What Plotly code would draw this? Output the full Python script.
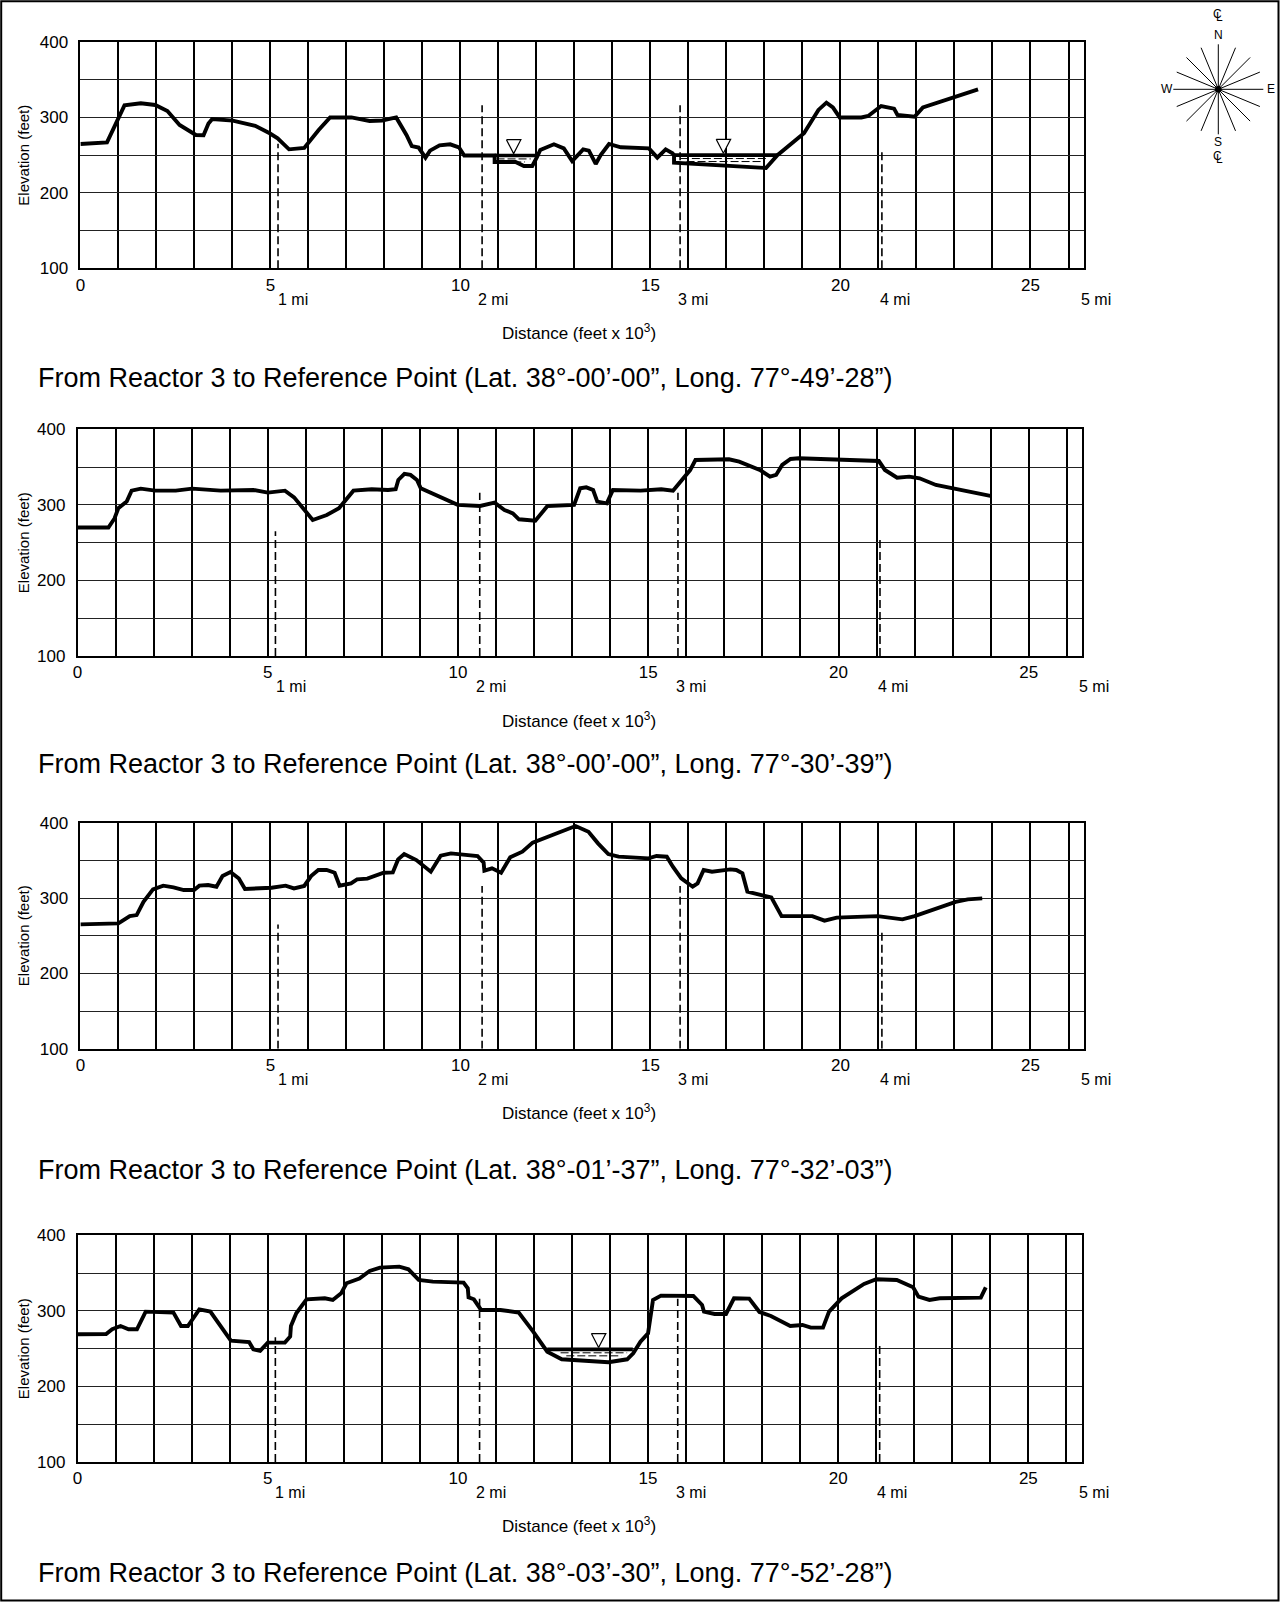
import math
import plotly.graph_objects as go

W, H = 1281, 1602

# ---------------- data (distance in feet x 10^3, elevation in feet) ----------------
p1_x = [0, 0.7, 1.02, 1.16, 1.59, 1.97, 2.29, 2.61, 3.04, 3.24,
        3.37, 3.47, 4.01, 4.6, 4.98, 5.19, 5.49, 5.89, 6.27, 6.57,
        7.13, 7.61, 7.94, 8.31, 8.58, 8.72, 8.9, 9.08, 9.2, 9.45,
        9.73, 9.96, 10.1, 10.9, 10.9, 11.45, 11.67, 11.89, 12.02, 12.1,
        12.46, 12.72, 12.94, 13.23, 13.38, 13.56, 13.69, 13.91, 14.22, 14.96,
        15.18, 15.4, 15.58, 15.62, 15.62, 18.04, 18.34, 19.04, 19.42, 19.63,
        19.8, 19.98, 20.55, 20.73, 21.07, 21.41, 21.5, 21.95, 22.17, 23.62]
p1_y = [264.8, 267, 301, 316, 318.7, 316.5, 308.5, 290, 276.7, 276.3,
        292, 298, 295.7, 289, 279, 272.3, 257.7, 259.5, 283.4, 300,
        300, 295.3, 296, 300, 276.7, 262, 260, 246.7, 256, 263,
        264.4, 260.4, 249.5, 249.5, 241, 241, 235.6, 235.6, 248, 256.8,
        264.4, 259, 242.2, 257.7, 256, 238.3, 250, 264.8, 260.4, 259,
        246.7, 257.7, 252.4, 250, 240, 233, 250, 279, 310, 319.6,
        313.4, 300, 300, 302, 315.2, 311.6, 303.2, 301, 313.4, 337.3]

p2_x = [0, 0.81, 0.97, 1.07, 1.29, 1.42, 1.66, 2.04, 2.58, 3.01,
        3.76, 4.62, 5.0, 5.45, 5.69, 6.18, 6.55, 6.87, 7.25, 7.73,
        8.16, 8.36, 8.43, 8.59, 8.75, 8.92, 9.02, 9.56, 9.99, 10.58,
        10.96, 11.22, 11.44, 11.6, 12.03, 12.35, 13.05, 13.21, 13.37, 13.55,
        13.66, 13.91, 14.07, 14.8, 15.34, 15.65, 15.99, 16.1, 16.24, 17.12,
        17.39, 17.93, 18.2, 18.36, 18.52, 18.74, 18.95, 21.06, 21.22, 21.54,
        21.86, 22.13, 22.56, 23.0, 23.99]
p2_y = [270, 270, 282, 295.5, 304.3, 318.8, 321.5, 318.8, 318.8, 321.5,
        318.8, 319.7, 316.2, 318.8, 310, 280, 286.6, 295.5, 318.8, 320.6,
        319.7, 320.6, 333, 341, 339.6, 333, 322, 310, 300, 298.5,
        303, 293.2, 288.8, 280.9, 279, 298.5, 300, 322, 323.2, 319.7,
        304.3, 302, 319.7, 318.8, 320.6, 318.8, 339.6, 346, 359.4, 360.3,
        357.2, 346.2, 337.4, 339.6, 352.8, 360.7, 361.6, 358, 346.2, 336,
        337.4, 335.2, 326.3, 322, 311.8]

p3_x = [0, 1.0, 1.3, 1.48, 1.66, 1.91, 2.18, 2.45, 2.72, 2.99,
        3.13, 3.36, 3.58, 3.74, 3.95, 4.17, 4.33, 5.03, 5.4, 5.62,
        5.89, 6.07, 6.26, 6.48, 6.69, 6.82, 7.12, 7.28, 7.55, 7.98,
        8.22, 8.36, 8.52, 8.84, 9.22, 9.48, 9.75, 10.45, 10.61, 10.63,
        10.83, 11.07, 11.31, 11.63, 11.9, 13.03, 13.37, 13.62, 13.89, 14.16,
        14.95, 15.16, 15.43, 15.59, 15.81, 16.11, 16.24, 16.4, 16.62, 17.1,
        17.26, 17.42, 17.55, 17.96, 18.18, 18.45, 19.26, 19.58, 19.9, 20.98,
        21.63, 21.95, 23.03, 23.35, 23.73]
p3_y = [265, 266.4, 276, 277.4, 295, 311.5, 316.4, 314.2, 310.6, 310.6,
        316.4, 317.3, 315, 329.2, 334.5, 326, 312, 313.7, 316.4, 312.8,
        316, 329.2, 337.2, 337.2, 333.6, 316.4, 319.5, 324.8, 325.7, 333.6,
        334, 351.3, 358.4, 350.4, 335, 356.2, 359.3, 355.8, 347, 336.3,
        339.4, 333.6, 354, 361.5, 373.5, 395.6, 388, 372.6, 358.4, 354.9,
        352.7, 355.8, 354.9, 341.6, 326, 315, 319.5, 337.2, 335, 338,
        337.2, 332.7, 308.4, 304, 300.9, 276, 276, 270, 274, 276,
        271.7, 276, 295, 298.2, 299.6]

p4_x = [0, 0.75, 0.91, 1.13, 1.34, 1.56, 1.79, 2.52, 2.72, 2.9,
        3.2, 3.49, 4.03, 4.51, 4.62, 4.8, 5.0, 5.45, 5.59, 5.61,
        5.75, 6.02, 6.5, 6.71, 6.93, 7.07, 7.41, 7.68, 7.95, 8.46,
        8.7, 8.97, 9.34, 10.15, 10.26, 10.28, 10.42, 10.61, 11.12, 11.6,
        11.98, 12.35, 12.73, 13.16, 13.96, 14.45, 14.61, 14.8, 15.0, 15.13,
        15.34, 16.19, 16.42, 16.47, 16.75, 17.05, 17.16, 17.26, 17.66, 17.8,
        17.93, 18.23, 18.47, 18.74, 19.06, 19.28, 19.6, 19.76, 20.09, 20.41,
        20.68, 21.0, 21.54, 21.97, 22.11, 22.4, 22.67, 23.75, 23.88]
p4_y = [269, 269.4, 275.6, 280, 275.6, 275.6, 299, 297.7, 280, 280,
        302, 299, 260.6, 258.8, 249.1, 247, 258, 258, 266, 280,
        296.8, 315.3, 316.6, 314.4, 323.2, 336.5, 342.7, 352.8, 357.2, 358.5,
        355, 340.9, 338.7, 337.4, 329.9, 318, 315.3, 301.2, 301.2, 297.7,
        272.5, 246, 235.9, 234.1, 232, 235.9, 243.8, 259.3, 270.3, 314.4,
        320.2, 319.7, 307.8, 299, 295.9, 295.9, 305.6, 316.6, 316.2, 306.5,
        298.5, 293.3, 287, 280, 281.3, 277.8, 277.8, 299, 316.6, 326.8,
        335.6, 341.8, 340.9, 331.2, 318.8, 314.4, 316.6, 317.5, 331.2]

profiles_x = [p1_x, p2_x, p3_x, p4_x]
profiles_y = [p1_y, p2_y, p3_y, p4_y]

# water bodies per panel: start, end, surface level, marker position, dashed-fill extent
water_start = [[10.9, 15.62], [], [], [12.35]]
water_end = [[12.02, 18.34], [], [], [14.6]]
water_level = [[249.5, 250], [], [], [249]]
water_marker_x = [[11.4, 16.92], [], [], [13.7]]
water_dash_start = [[10.95, 15.8], [], [], [12.7]]
water_dash_end = [[11.85, 18.05], [], [], [14.45]]

# mile markers (dashed verticals) and labels
mile_marker_x = [5.2, 10.57, 15.78, 21.09]
mile_marker_top = [265, 316, 316, 257]
mile_labels = ["1 mi", "2 mi", "3 mi", "4 mi", "5 mi"]
mile_label_x = [5.15, 10.42, 15.68, 20.98, 26.28]

x_tick_vals = [0, 5, 10, 15, 20, 25]
y_tick_vals = [100, 200, 300, 400]
x_range = [0, 26.4]
y_range = [100, 400]

titles = [
    "From Reactor 3 to Reference Point (Lat. 38°-00’-00”, Long. 77°-49’-28”)",
    "From Reactor 3 to Reference Point (Lat. 38°-00’-00”, Long. 77°-30’-39”)",
    "From Reactor 3 to Reference Point (Lat. 38°-01’-37”, Long. 77°-32’-03”)",
    "From Reactor 3 to Reference Point (Lat. 38°-03’-30”, Long. 77°-52’-28”)",
]
x_title = "Distance (feet x 10<sup>3</sup>)"
y_title = "Elevation (feet)"

# ---------------- layout geometry (pixels) ----------------
plot_left = [80.4, 77.6, 80.4, 77.6]
plot_right = [1083.7, 1082.0, 1083.7, 1081.6]
plot_top = [42.0, 429.3, 822.7, 1235.3]
plot_bottom = [268.3, 656.0, 1048.7, 1462.0]
mile_label_y = [299, 686.5, 1079.7, 1492.4]
dist_label_y = [332, 720, 1112, 1525]
title_y = [378, 764, 1170, 1573]

FONT = "Arial, 'Liberation Sans', Helvetica, sans-serif"


def fx(px):
    return px / W


def fy(py):
    return 1 - py / H


fig = go.Figure()
annotations = []
shapes = []
layout = {}

for i in range(4):
    xa = "x" if i == 0 else f"x{i+1}"
    ya = "y" if i == 0 else f"y{i+1}"
    xk = "xaxis" if i == 0 else f"xaxis{i+1}"
    yk = "yaxis" if i == 0 else f"yaxis{i+1}"
    layout[xk] = dict(
        domain=[fx(plot_left[i]), fx(plot_right[i])], range=x_range, anchor=ya,
        tickvals=x_tick_vals, ticks="", ticklabelstandoff=0, automargin=False,
        tickfont=dict(size=17, color="black", family=FONT),
        showgrid=True, gridcolor="black", gridwidth=1.8,
        minor=dict(dtick=1, tick0=0, showgrid=True, gridcolor="black", gridwidth=1.8),
        showline=True, mirror=True, linecolor="black", linewidth=1.7,
        zeroline=False, fixedrange=True,
    )
    layout[yk] = dict(
        domain=[fy(plot_bottom[i]), fy(plot_top[i])], range=y_range, anchor=xa,
        tickvals=y_tick_vals, ticks="", ticklabelstandoff=7, automargin=False,
        tickfont=dict(size=17, color="black", family=FONT),
        showgrid=True, gridcolor="#222222", gridwidth=1.4,
        minor=dict(dtick=50, tick0=0, showgrid=True, gridcolor="#222222", gridwidth=1.4),
        showline=True, mirror=True, linecolor="black", linewidth=1.7,
        zeroline=False, fixedrange=True,
    )

    # mile marker dashed lines
    for mx, mt in zip(mile_marker_x, mile_marker_top):
        fig.add_trace(go.Scatter(x=[mx, mx], y=[y_range[0], mt], mode="lines",
                                 line=dict(color="black", width=1.6, dash="8px,4px"),
                                 xaxis=xa, yaxis=ya, showlegend=False, hoverinfo="skip"))

    # water bodies
    for ws, we, wl, wm, ds, de in zip(water_start[i], water_end[i], water_level[i],
                                      water_marker_x[i], water_dash_start[i], water_dash_end[i]):
        for off, shrink in [(4.5, 0.0), (8.5, 0.15)]:
            fig.add_trace(go.Scatter(x=[ds + shrink, de - shrink], y=[wl - off, wl - off], mode="lines",
                                     line=dict(color="black", width=1, dash="8px,3px"),
                                     xaxis=xa, yaxis=ya, showlegend=False, hoverinfo="skip"))
        fig.add_trace(go.Scatter(x=[ws, we], y=[wl, wl], mode="lines",
                                 line=dict(color="black", width=3.6),
                                 xaxis=xa, yaxis=ya, showlegend=False, hoverinfo="skip"))
        fig.add_trace(go.Scatter(x=[wm - 0.19, wm + 0.19, wm, wm - 0.19],
                                 y=[wl + 21, wl + 21, wl + 2.5, wl + 21],
                                 mode="lines", fill="toself", fillcolor="white",
                                 line=dict(color="black", width=1.2),
                                 xaxis=xa, yaxis=ya, showlegend=False, hoverinfo="skip"))

    # terrain profile
    fig.add_trace(go.Scatter(x=profiles_x[i], y=profiles_y[i], mode="lines",
                             line=dict(color="black", width=3.9),
                             xaxis=xa, yaxis=ya, showlegend=False, hoverinfo="skip"))

    # mile labels
    for lab, lx in zip(mile_labels, mile_label_x):
        annotations.append(dict(x=lx, y=fy(mile_label_y[i]), xref=xa, yref="paper",
                                text=lab, showarrow=False, xanchor="left", yanchor="middle",
                                font=dict(size=16, color="black", family=FONT)))
    # axis titles
    annotations.append(dict(x=fx(579), y=fy(dist_label_y[i]), xref="paper", yref="paper",
                            text=x_title, showarrow=False, xanchor="center", yanchor="middle",
                            font=dict(size=17, color="black", family=FONT)))
    annotations.append(dict(x=fx(23.5), y=fy((plot_top[i] + plot_bottom[i]) / 2),
                            xref="paper", yref="paper", text=y_title, textangle=-90,
                            showarrow=False, xanchor="center", yanchor="middle",
                            font=dict(size=15, color="black", family=FONT)))
    # panel caption
    annotations.append(dict(x=fx(35.5), y=fy(title_y[i]), xref="paper", yref="paper",
                            text=titles[i], showarrow=False, xanchor="left", yanchor="middle",
                            font=dict(size=27, color="black", family=FONT)))

# ---------------- compass rose ----------------
cx, cy, ray = 1218.3, 89.3, 45
for k in range(16):
    ang = math.radians(k * 22.5)
    ex, ey = cx + ray * math.sin(ang), cy - ray * math.cos(ang)
    shapes.append(dict(type="line", xref="paper", yref="paper",
                       x0=fx(cx), y0=fy(cy), x1=fx(ex), y1=fy(ey),
                       line=dict(color="black", width=1)))
shapes.append(dict(type="circle", xref="paper", yref="paper",
                   x0=fx(cx - 3.3), x1=fx(cx + 3.3), y0=fy(cy + 3.3), y1=fy(cy - 3.3),
                   fillcolor="black", line=dict(color="black", width=0)))
compass_text = [("C", cx - 1.0, 14.5), ("L", cx + 1.5, 17), ("N", cx, 35),
                ("S", cx, 142), ("C", cx - 1.0, 156.5), ("L", cx + 1.5, 159),
                ("W", 1166.5, cy), ("E", 1270.5, cy)]
for t, tx, ty in compass_text:
    annotations.append(dict(x=fx(tx), y=fy(ty), xref="paper", yref="paper", text=t,
                            showarrow=False, xanchor="center", yanchor="middle",
                            font=dict(size=12, color="black", family=FONT)))

# page frame
shapes.append(dict(type="rect", xref="paper", yref="paper",
                   x0=fx(1.2), x1=fx(1278.5), y0=fy(1600.5), y1=fy(1.2),
                   line=dict(color="black", width=2)))

fig.update_layout(
    template="none",
    width=W, height=H, margin=dict(l=0, r=0, t=0, b=0, pad=0, autoexpand=False),
    paper_bgcolor="white", plot_bgcolor="white",
    font=dict(family=FONT, color="black"),
    showlegend=False, annotations=annotations, shapes=shapes,
    **layout,
)

fig.write_html("out.html", config={"displayModeBar": False},
               post_script="document.body.style.margin='0px';")
